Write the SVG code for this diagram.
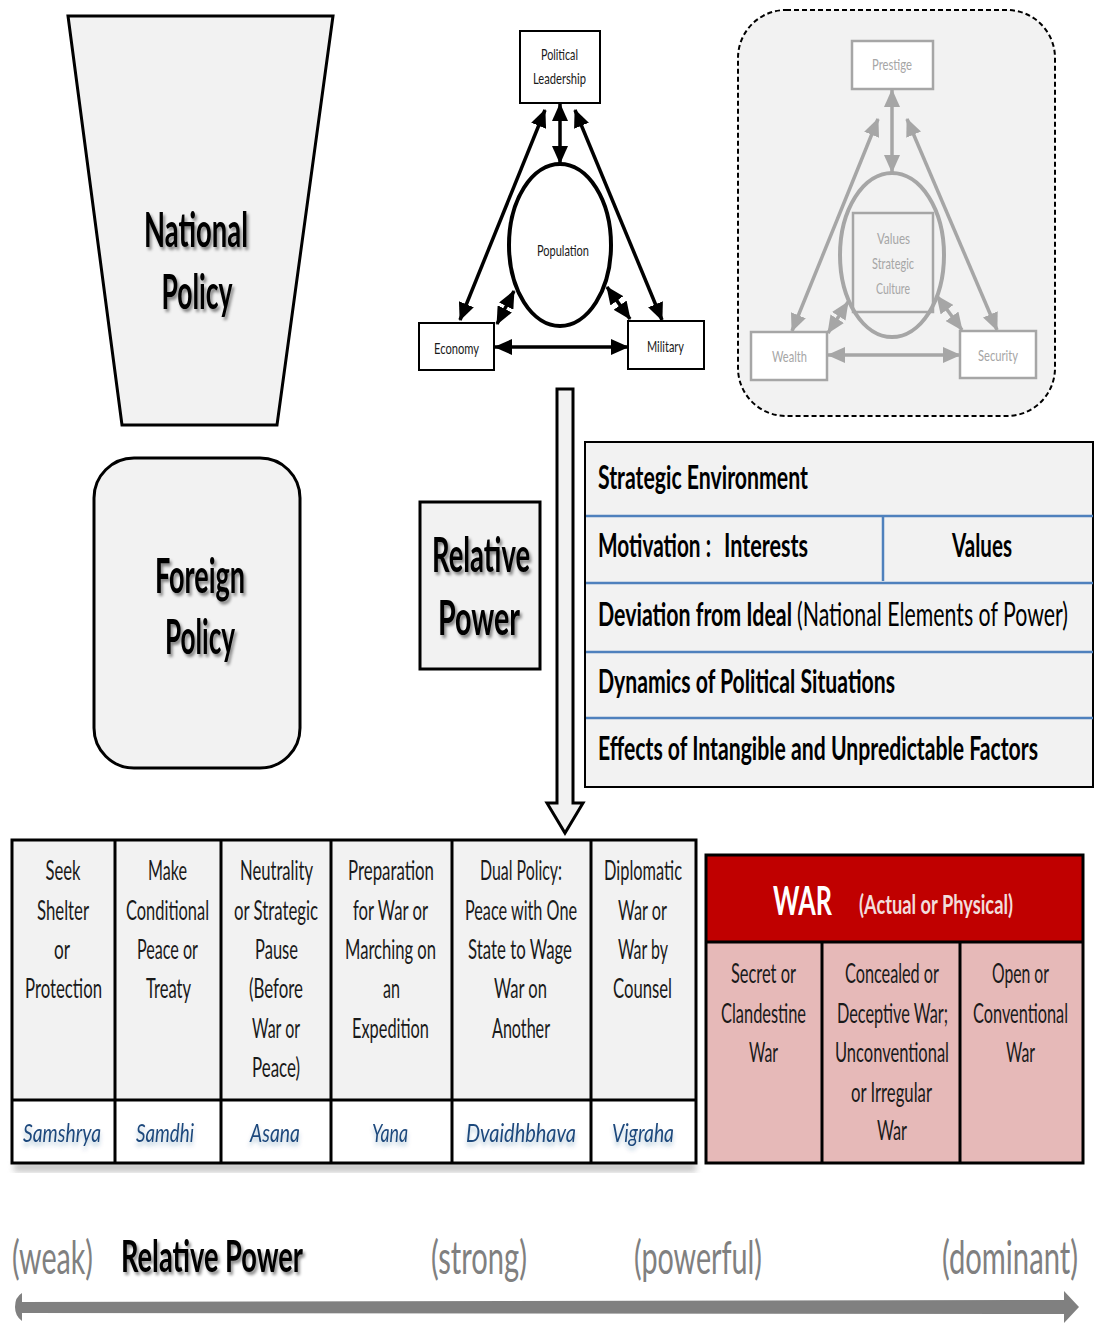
<svg xmlns="http://www.w3.org/2000/svg" width="1096" height="1324" viewBox="0 0 1096 1324">
  <style>
    .t { font-family: "Lato", "Liberation Sans", sans-serif; }
    .big { font-size: 48px; font-weight: bold; fill: #000; }
    .sm { font-size: 16px; fill: #1a1a1a; }
    .smg { font-size: 16px; fill: #a6a6a6; }
    .row { font-size: 32px; fill: #000; }
    .b { font-weight: bold; }
    .cell { font-size: 26px; fill: #1a1a1a; }
    .skt { font-size: 26px; font-style: italic; fill: #1f497d; }
    .scale { font-size: 46px; fill: #808080; }
    .frame { fill: #f2f2f2; stroke: #000; stroke-width: 3; }
    .box { fill: #fff; stroke: #000; stroke-width: 2; }
    .gbox { fill: #fff; stroke: #a6a6a6; stroke-width: 2.5; }
    .blk { stroke: #000; stroke-width: 3.5; fill: none; marker-start: url(#ah); marker-end: url(#ah); }
    .gry { stroke: #a6a6a6; stroke-width: 3.5; fill: none; marker-start: url(#ahg); marker-end: url(#ahg); }
    .blue { stroke: #4f81bd; stroke-width: 2.5; }
    .grid { stroke: #000; stroke-width: 3; }
  </style>
  <defs>
    <marker id="ah" viewBox="0 0 18 16" refX="17" refY="8" markerWidth="18" markerHeight="16" markerUnits="userSpaceOnUse" orient="auto-start-reverse">
      <path d="M0,0 L18,8 L0,16 Z" fill="#000"/>
    </marker>
    <marker id="ahg" viewBox="0 0 18 16" refX="17" refY="8" markerWidth="18" markerHeight="16" markerUnits="userSpaceOnUse" orient="auto-start-reverse">
      <path d="M0,0 L18,8 L0,16 Z" fill="#a6a6a6"/>
    </marker>
    <filter id="shadow" x="-20%" y="-20%" width="140%" height="150%">
      <feDropShadow dx="2" dy="3" stdDeviation="1.8" flood-color="#000" flood-opacity="0.45"/>
    </filter>
    <filter id="soft" x="-20%" y="-40%" width="140%" height="200%">
      <feDropShadow dx="0" dy="4" stdDeviation="2" flood-color="#1f497d" flood-opacity="0.3"/>
    </filter>
    <filter id="blur4"><feGaussianBlur stdDeviation="3"/></filter>
  </defs>

  <rect width="1096" height="1324" fill="#fff"/>

  <!-- National Policy -->
  <g id="national-policy">
    <path class="frame" d="M68,16 L333,16 L277,425 L122,425 Z"/>
    <g filter="url(#shadow)">
      <text class="t big" x="196" y="247" text-anchor="middle" textLength="104" lengthAdjust="spacingAndGlyphs">National</text>
      <text class="t big" x="197" y="309" text-anchor="middle" textLength="71" lengthAdjust="spacingAndGlyphs">Policy</text>
    </g>
  </g>

  <!-- Foreign Policy -->
  <g id="foreign-policy">
    <rect class="frame" x="94" y="458" width="206" height="310" rx="40"/>
    <g filter="url(#shadow)">
      <text class="t big" x="200" y="593" text-anchor="middle" textLength="90" lengthAdjust="spacingAndGlyphs">Foreign</text>
      <text class="t big" x="200" y="654" text-anchor="middle" textLength="70" lengthAdjust="spacingAndGlyphs">Policy</text>
    </g>
  </g>

  <!-- Relative Power -->
  <g id="relative-power">
    <rect class="frame" x="420" y="502" width="120" height="167"/>
    <g filter="url(#shadow)">
      <text class="t big" x="481" y="572" text-anchor="middle" textLength="98" lengthAdjust="spacingAndGlyphs">Relative</text>
      <text class="t big" x="479" y="635" text-anchor="middle" textLength="82" lengthAdjust="spacingAndGlyphs">Power</text>
    </g>
  </g>

  <!-- Down arrow -->
  <g id="down-arrow">
    <path class="frame" d="M557,389 L573,389 L573,803 L583,803 L565,833 L547,803 L557,803 Z"/>
  </g>

  <!-- Elements triangle -->
  <g id="political-leadership">
    <rect class="box" x="520" y="31" width="80" height="72"/>
    <text class="t sm" x="559.5" y="60" text-anchor="middle" textLength="37" lengthAdjust="spacingAndGlyphs">Political</text>
    <text class="t sm" x="559.5" y="84" text-anchor="middle" textLength="53" lengthAdjust="spacingAndGlyphs">Leadership</text>
  </g>
  <g id="population">
    <ellipse cx="560" cy="245" rx="51" ry="81" fill="#fff" stroke="#000" stroke-width="4"/>
    <text class="t sm" x="563" y="256" text-anchor="middle" textLength="52" lengthAdjust="spacingAndGlyphs">Population</text>
  </g>
  <g id="economy">
    <rect class="box" x="419" y="323" width="75" height="47"/>
    <text class="t sm" x="456.5" y="354" text-anchor="middle" textLength="45" lengthAdjust="spacingAndGlyphs">Economy</text>
  </g>
  <g id="military">
    <rect class="box" x="628" y="321" width="76" height="48"/>
    <text class="t sm" x="665.5" y="352" text-anchor="middle" textLength="37" lengthAdjust="spacingAndGlyphs">Military</text>
  </g>

  <!-- Interests triangle -->
  <g id="interests-panel">
    <rect x="738" y="10" width="317" height="406" rx="48" fill="#f2f2f2" stroke="#000" stroke-width="2" stroke-dasharray="5,3"/>
  </g>
  <g id="prestige">
    <rect class="gbox" x="852" y="41" width="81" height="48"/>
    <text class="t smg" x="892" y="70" text-anchor="middle" textLength="40" lengthAdjust="spacingAndGlyphs">Prestige</text>
  </g>
  <g id="values-culture">
    <ellipse cx="892" cy="255" rx="52" ry="82" fill="none" stroke="#a6a6a6" stroke-width="4"/>
    <rect x="853" y="213" width="80" height="99" fill="none" stroke="#a6a6a6" stroke-width="2.5"/>
    <text class="t smg" x="893.5" y="244" text-anchor="middle" textLength="33" lengthAdjust="spacingAndGlyphs">Values</text>
    <text class="t smg" x="893" y="269" text-anchor="middle" textLength="42" lengthAdjust="spacingAndGlyphs">Strategic</text>
    <text class="t smg" x="893" y="294" text-anchor="middle" textLength="34" lengthAdjust="spacingAndGlyphs">Culture</text>
  </g>
  <g id="wealth">
    <rect class="gbox" x="751" y="332" width="76" height="48"/>
    <text class="t smg" x="789.5" y="362" text-anchor="middle" textLength="35" lengthAdjust="spacingAndGlyphs">Wealth</text>
  </g>
  <g id="security">
    <rect class="gbox" x="960" y="331" width="76" height="47"/>
    <text class="t smg" x="998" y="361" text-anchor="middle" textLength="40" lengthAdjust="spacingAndGlyphs">Security</text>
  </g>

  <!-- Connectors -->
  <g id="connectors">
    <line class="blk" x1="545" y1="110" x2="460" y2="320"/>
    <line class="blk" x1="560" y1="104" x2="560" y2="163"/>
    <line class="blk" x1="575" y1="110" x2="662" y2="320"/>
    <line class="blk" x1="497" y1="324" x2="514" y2="291"/>
    <line class="blk" x1="607" y1="287" x2="630" y2="319"/>
    <line class="blk" x1="495" y1="347" x2="628" y2="347"/>

    <line class="gry" x1="878" y1="119" x2="792" y2="331"/>
    <line class="gry" x1="892" y1="90" x2="892" y2="172"/>
    <line class="gry" x1="907" y1="119" x2="997" y2="330"/>
    <line class="gry" x1="828" y1="333" x2="848" y2="302"/>
    <line class="gry" x1="937" y1="296" x2="962" y2="330"/>
    <line class="gry" x1="828" y1="355" x2="960" y2="355"/>
  </g>

  <!-- Factors table -->
  <g id="factors-table">
    <rect x="585" y="442" width="508" height="345" fill="#f2f2f2" stroke="#000" stroke-width="2"/>
    <line class="blue" x1="586" y1="516" x2="1093" y2="516"/>
    <line class="blue" x1="586" y1="583" x2="1093" y2="583"/>
    <line class="blue" x1="586" y1="652" x2="1093" y2="652"/>
    <line class="blue" x1="586" y1="718" x2="1093" y2="718"/>
    <line class="blue" x1="883" y1="516" x2="883" y2="581"/>
    <text class="t row b" x="598" y="489" textLength="210" lengthAdjust="spacingAndGlyphs">Strategic Environment</text>
    <text class="t row b" x="598" y="557" textLength="113" lengthAdjust="spacingAndGlyphs">Motivation :</text>
    <text class="t row b" x="724" y="557" textLength="84" lengthAdjust="spacingAndGlyphs">Interests</text>
    <text class="t row b" x="952" y="557" textLength="60" lengthAdjust="spacingAndGlyphs">Values</text>
    <text class="t row b" x="598" y="626" textLength="194" lengthAdjust="spacingAndGlyphs">Deviation from Ideal</text>
    <text class="t row" x="797" y="626" textLength="271" lengthAdjust="spacingAndGlyphs">(National Elements of Power)</text>
    <text class="t row b" x="598" y="693" textLength="297" lengthAdjust="spacingAndGlyphs">Dynamics of Political Situations</text>
    <text class="t row b" x="598" y="760" textLength="440" lengthAdjust="spacingAndGlyphs">Effects of Intangible and Unpredictable Factors</text>
  </g>

  <!-- Options table -->
  <g id="options-table">
    <rect x="14" y="1162" width="682" height="10" fill="#9a9a9a" opacity="0.55" filter="url(#blur4)"/>
    <rect x="12" y="840" width="684" height="260" fill="#f2f2f2"/>
    <rect x="12" y="1100" width="684" height="63" fill="#fff"/>
    <rect x="12" y="840" width="684" height="323" fill="none" stroke="#000" stroke-width="3"/>
    <line class="grid" x1="12" y1="1100" x2="696" y2="1100" stroke-width="5"/>
    <line class="grid" x1="115" y1="840" x2="115" y2="1163"/>
    <line class="grid" x1="221" y1="840" x2="221" y2="1163"/>
    <line class="grid" x1="331" y1="840" x2="331" y2="1163"/>
    <line class="grid" x1="452" y1="840" x2="452" y2="1163"/>
    <line class="grid" x1="591" y1="840" x2="591" y2="1163"/>

    <g id="col-samshrya">
      <text class="t cell" x="63" y="880" text-anchor="middle" textLength="35" lengthAdjust="spacingAndGlyphs">Seek</text>
      <text class="t cell" x="63" y="920" text-anchor="middle" textLength="52" lengthAdjust="spacingAndGlyphs">Shelter</text>
      <text class="t cell" x="62" y="959" text-anchor="middle" textLength="16" lengthAdjust="spacingAndGlyphs">or</text>
      <text class="t cell" x="63.5" y="998" text-anchor="middle" textLength="77" lengthAdjust="spacingAndGlyphs">Protection</text>
      <text class="t skt" x="62" y="1142" text-anchor="middle" textLength="78" lengthAdjust="spacingAndGlyphs" filter="url(#soft)">Samshrya</text>
    </g>
    <g id="col-samdhi">
      <text class="t cell" x="167.5" y="880" text-anchor="middle" textLength="39" lengthAdjust="spacingAndGlyphs">Make</text>
      <text class="t cell" x="167.5" y="920" text-anchor="middle" textLength="83" lengthAdjust="spacingAndGlyphs">Conditional</text>
      <text class="t cell" x="167.5" y="959" text-anchor="middle" textLength="61" lengthAdjust="spacingAndGlyphs">Peace or</text>
      <text class="t cell" x="168.5" y="998" text-anchor="middle" textLength="45" lengthAdjust="spacingAndGlyphs">Treaty</text>
      <text class="t skt" x="165" y="1142" text-anchor="middle" textLength="58" lengthAdjust="spacingAndGlyphs" filter="url(#soft)">Samdhi</text>
    </g>
    <g id="col-asana">
      <text class="t cell" x="276.5" y="880" text-anchor="middle" textLength="73" lengthAdjust="spacingAndGlyphs">Neutrality</text>
      <text class="t cell" x="276" y="920" text-anchor="middle" textLength="84" lengthAdjust="spacingAndGlyphs">or Strategic</text>
      <text class="t cell" x="276.5" y="959" text-anchor="middle" textLength="43" lengthAdjust="spacingAndGlyphs">Pause</text>
      <text class="t cell" x="276" y="998" text-anchor="middle" textLength="54" lengthAdjust="spacingAndGlyphs">(Before</text>
      <text class="t cell" x="276" y="1038" text-anchor="middle" textLength="48" lengthAdjust="spacingAndGlyphs">War or</text>
      <text class="t cell" x="276" y="1077" text-anchor="middle" textLength="48" lengthAdjust="spacingAndGlyphs">Peace)</text>
      <text class="t skt" x="275" y="1142" text-anchor="middle" textLength="50" lengthAdjust="spacingAndGlyphs" filter="url(#soft)">Asana</text>
    </g>
    <g id="col-yana">
      <text class="t cell" x="391" y="880" text-anchor="middle" textLength="86" lengthAdjust="spacingAndGlyphs">Preparation</text>
      <text class="t cell" x="390.5" y="920" text-anchor="middle" textLength="75" lengthAdjust="spacingAndGlyphs">for War or</text>
      <text class="t cell" x="390.5" y="959" text-anchor="middle" textLength="91" lengthAdjust="spacingAndGlyphs">Marching on</text>
      <text class="t cell" x="391.5" y="998" text-anchor="middle" textLength="17" lengthAdjust="spacingAndGlyphs">an</text>
      <text class="t cell" x="390.5" y="1038" text-anchor="middle" textLength="77" lengthAdjust="spacingAndGlyphs">Expedition</text>
      <text class="t skt" x="390" y="1142" text-anchor="middle" textLength="36" lengthAdjust="spacingAndGlyphs" filter="url(#soft)">Yana</text>
    </g>
    <g id="col-dvaidhbhava">
      <text class="t cell" x="521" y="880" text-anchor="middle" textLength="82" lengthAdjust="spacingAndGlyphs">Dual Policy:</text>
      <text class="t cell" x="521" y="920" text-anchor="middle" textLength="112" lengthAdjust="spacingAndGlyphs">Peace with One</text>
      <text class="t cell" x="520" y="959" text-anchor="middle" textLength="104" lengthAdjust="spacingAndGlyphs">State to Wage</text>
      <text class="t cell" x="520.5" y="998" text-anchor="middle" textLength="53" lengthAdjust="spacingAndGlyphs">War on</text>
      <text class="t cell" x="521" y="1038" text-anchor="middle" textLength="58" lengthAdjust="spacingAndGlyphs">Another</text>
      <text class="t skt" x="521" y="1142" text-anchor="middle" textLength="110" lengthAdjust="spacingAndGlyphs" filter="url(#soft)">Dvaidhbhava</text>
    </g>
    <g id="col-vigraha">
      <text class="t cell" x="643" y="880" text-anchor="middle" textLength="78" lengthAdjust="spacingAndGlyphs">Diplomatic</text>
      <text class="t cell" x="642.5" y="920" text-anchor="middle" textLength="49" lengthAdjust="spacingAndGlyphs">War or</text>
      <text class="t cell" x="643" y="959" text-anchor="middle" textLength="50" lengthAdjust="spacingAndGlyphs">War by</text>
      <text class="t cell" x="642.5" y="998" text-anchor="middle" textLength="59" lengthAdjust="spacingAndGlyphs">Counsel</text>
      <text class="t skt" x="643" y="1142" text-anchor="middle" textLength="62" lengthAdjust="spacingAndGlyphs" filter="url(#soft)">Vigraha</text>
    </g>
  </g>

  <!-- War table -->
  <g id="war-table">
    <rect x="706" y="855" width="377" height="87" fill="#c00000"/>
    <rect x="706" y="942" width="377" height="221" fill="#e6b9b8"/>
    <rect x="706" y="855" width="377" height="308" fill="none" stroke="#000" stroke-width="3"/>
    <line class="grid" x1="706" y1="942" x2="1083" y2="942" stroke-width="4"/>
    <line class="grid" x1="822" y1="942" x2="822" y2="1163"/>
    <line class="grid" x1="960" y1="942" x2="960" y2="1163"/>
    <text class="t b" x="773" y="915" font-size="40" fill="#fff" textLength="59" lengthAdjust="spacingAndGlyphs">WAR</text>
    <text class="t b" x="859" y="914" font-size="26" fill="#f2dcdb" textLength="154" lengthAdjust="spacingAndGlyphs">(Actual or Physical)</text>

    <text class="t cell" x="763.5" y="983" text-anchor="middle" textLength="65" lengthAdjust="spacingAndGlyphs">Secret or</text>
    <text class="t cell" x="763.5" y="1023" text-anchor="middle" textLength="85" lengthAdjust="spacingAndGlyphs">Clandestine</text>
    <text class="t cell" x="763.5" y="1062" text-anchor="middle" textLength="29" lengthAdjust="spacingAndGlyphs">War</text>

    <text class="t cell" x="892" y="983" text-anchor="middle" textLength="94" lengthAdjust="spacingAndGlyphs">Concealed or</text>
    <text class="t cell" x="892.5" y="1023" text-anchor="middle" textLength="111" lengthAdjust="spacingAndGlyphs">Deceptive War;</text>
    <text class="t cell" x="892" y="1062" text-anchor="middle" textLength="114" lengthAdjust="spacingAndGlyphs">Unconventional</text>
    <text class="t cell" x="891.5" y="1102" text-anchor="middle" textLength="81" lengthAdjust="spacingAndGlyphs">or Irregular</text>
    <text class="t cell" x="892" y="1140" text-anchor="middle" textLength="30" lengthAdjust="spacingAndGlyphs">War</text>

    <text class="t cell" x="1020.5" y="983" text-anchor="middle" textLength="57" lengthAdjust="spacingAndGlyphs">Open or</text>
    <text class="t cell" x="1020.5" y="1023" text-anchor="middle" textLength="95" lengthAdjust="spacingAndGlyphs">Conventional</text>
    <text class="t cell" x="1020.5" y="1062" text-anchor="middle" textLength="29" lengthAdjust="spacingAndGlyphs">War</text>
  </g>

  <!-- Relative power scale -->
  <g id="power-scale">
    <text class="t scale" x="12" y="1274" textLength="81" lengthAdjust="spacingAndGlyphs">(weak)</text>
    <text class="t b" x="121" y="1272" font-size="44" fill="#000" textLength="182" lengthAdjust="spacingAndGlyphs" filter="url(#shadow)">Relative Power</text>
    <text class="t scale" x="431" y="1274" textLength="96" lengthAdjust="spacingAndGlyphs">(strong)</text>
    <text class="t scale" x="634" y="1274" textLength="128" lengthAdjust="spacingAndGlyphs">(powerful)</text>
    <text class="t scale" x="942" y="1274" textLength="136" lengthAdjust="spacingAndGlyphs">(dominant)</text>
    <path d="M22,1302 L1064,1300 L1064,1291 L1079,1307 L1064,1323 L1064,1314 L22,1313 L22,1321 Q15,1316 15,1307 Q15,1297 22,1293 Z" fill="#808080"/>
  </g>
</svg>
